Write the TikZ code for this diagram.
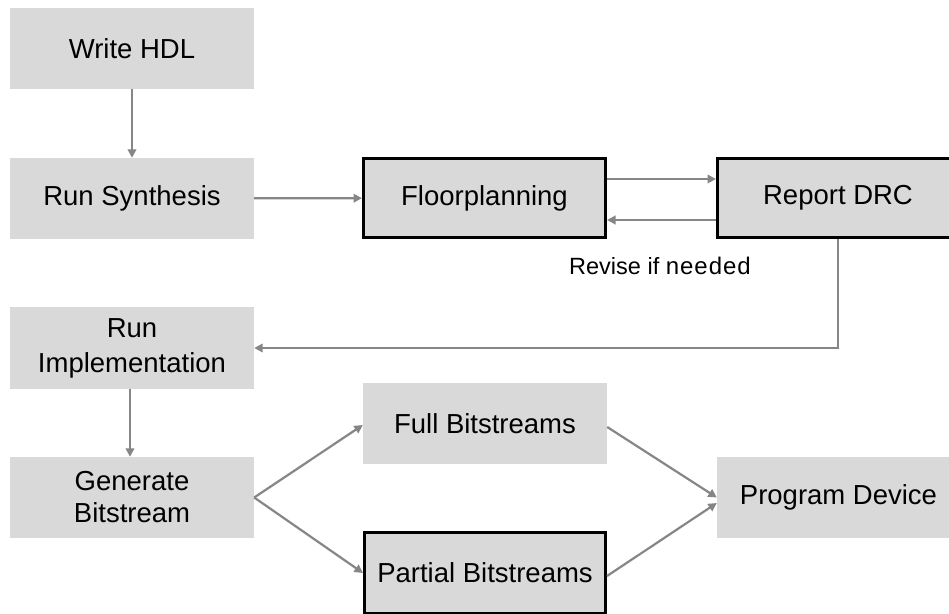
\documentclass[tikz,border=0pt]{standalone}
\usepackage{fontspec}
\setmainfont{Liberation Sans}
\usetikzlibrary{arrows.meta,calc}
\definecolor{boxgray}{HTML}{D9D9D9}
\definecolor{linkgray}{HTML}{868686}
\newcommand{\flowfont}{\fontsize{27.5}{35}\selectfont}
\begin{document}
\begin{tikzpicture}[x=1pt,y=-1pt,
  stage/.style={rectangle, fill=boxgray, inner sep=0pt, align=center,
    font=\flowfont, text=black},
  keystage/.style={stage, draw=black, line width=3pt},
  link/.style={draw=linkgray, line width=2.2pt,
    -{Triangle[length=8.5pt,width=8.5pt]}}]
\useasboundingbox (0,0) rectangle (949,613);

% left column
\node[stage, minimum width=244pt, minimum height=81pt] (hdl) at (132,48.5) {Write HDL};
\node[stage, minimum width=244pt, minimum height=81pt] (syn) at (132,198.5) {Run Synthesis};
\node[stage, minimum width=244pt, minimum height=82pt] (impl) at (132,348) {\raisebox{-3pt}{\begin{tabular}{@{}c@{}}Run\\Implementation\end{tabular}}};
\node[stage, minimum width=244pt, minimum height=81pt] (gen) at (132,497.5) {Generate\\[-3pt]Bitstream};

% floorplanning loop
\node[keystage, minimum width=242pt, minimum height=79pt] (floor) at (484.5,198) {Floorplanning};
\node[keystage, minimum width=241pt, minimum height=79pt] (drc) at (838,198) {Report DRC};

% bitstreams and device
\node[stage, minimum width=244pt, minimum height=81pt] (full) at (485,423.5) {Full Bitstreams};
\node[keystage, minimum width=241pt, minimum height=81pt] (part) at (485,573) {Partial Bitstreams};
\node[stage, minimum width=243pt, minimum height=81pt] (prog) at (838.5,497.5) {Program Device};

\node[anchor=base west, inner sep=0pt] (note) at (569,274)
  {\fontsize{23.5}{26}\selectfont Revise if {\fontsize{24}{26}\selectfont\addfontfeature{LetterSpace=4}needed}};

% connectors
\draw[link] (hdl) -- (syn);
\draw[link] (syn) -- (floor);
\draw[link] ([yshift=19pt]floor.east) -- ([yshift=19pt]drc.west);
\draw[link] ([yshift=-22pt]drc.west) -- ([yshift=-22pt]floor.east);
\draw[link] (drc.south) |- (impl.east);
\draw[link] ([xshift=-2pt]impl.south) -- ([xshift=-2pt]gen.north);
\draw[link] (gen.east) -- ([yshift=-1.5pt]full.west);
\draw[link] (gen.east) -- (part.west);
\draw[link] ([yshift=-3.5pt]full.east) -- (prog.west);
\draw[link] ([yshift=-3pt]part.east) -- ([yshift=-5.5pt]prog.west);
\end{tikzpicture}
\end{document}
